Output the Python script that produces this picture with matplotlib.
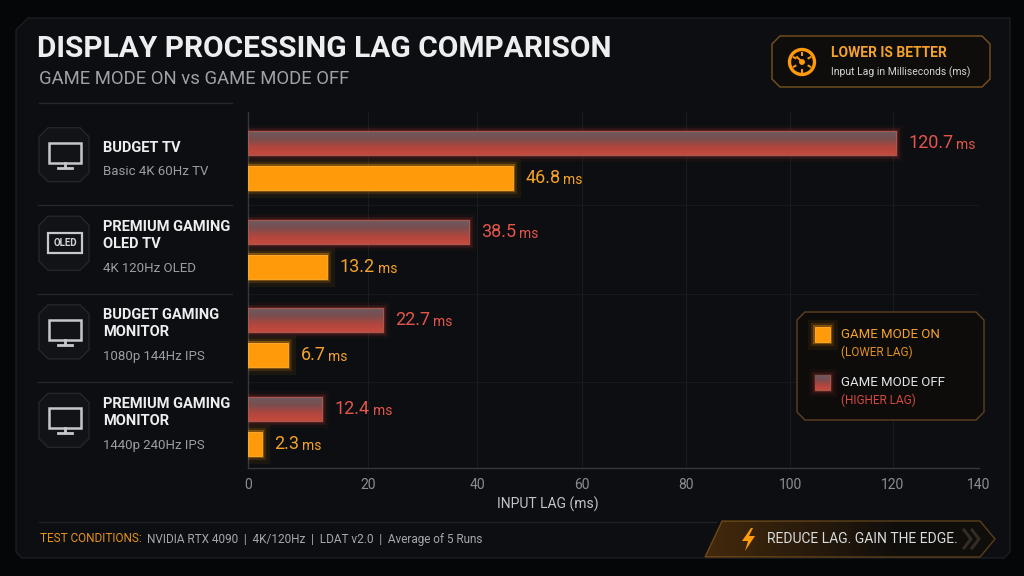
import numpy as np
import matplotlib
matplotlib.use('Agg')
import matplotlib.pyplot as plt
from matplotlib.patches import Polygon, Rectangle, Circle
from matplotlib.colors import LinearSegmentedColormap
import matplotlib.patheffects as pe

# ---------------- data ----------------
categories = ['BUDGET TV', 'PREMIUM GAMING\nOLED TV', 'BUDGET GAMING\nMONITOR', 'PREMIUM GAMING\nMONITOR']
specs = ['Basic 4K 60Hz TV', '4K 120Hz OLED', '1080p 144Hz IPS', '1440p 240Hz IPS']
icons = ['monitor', 'oled', 'monitor', 'monitor']
game_mode_off = [120.7, 38.5, 22.7, 12.4]
game_mode_on = [46.8, 13.2, 6.7, 2.3]
x_ticks = [0, 20, 40, 60, 80, 100, 120, 140]
series_names = ['GAME MODE ON', 'GAME MODE OFF']
series_notes = ['(LOWER LAG)', '(HIGHER LAG)']
title = 'DISPLAY PROCESSING LAG COMPARISON'
subtitle = 'GAME MODE ON vs GAME MODE OFF'
x_label = 'INPUT LAG (ms)'
badge_title = 'LOWER IS BETTER'
badge_sub = 'Input Lag in Milliseconds (ms)'
cond_label = 'TEST CONDITIONS:'
cond_text = 'NVIDIA RTX 4090  |  4K/120Hz  |  LDAT v2.0  |  Average of 5 Runs'
tagline = 'REDUCE LAG. GAIN THE EDGE.'

# ---------------- style ----------------
plt.rcParams['font.family'] = ['Roboto', 'DejaVu Sans']
BG_OUT = '#050607'
PANEL = '#0c0e11'
ORANGE = '#ff9a0a'
ORANGE_T = '#f5a22a'
RED_T = '#e4554b'
GRID = '#181b20'
W, H = 1024, 576
AX_L, AX_R, AX_T, AX_B = 248, 979, 112, 468
Y_TOP, Y_BOT = -0.55, 3.47
TICK_PX = [0, 120, 229, 334, 438, 542, 645, 731]  # visual position of each tick along the axis
OFFSET, BAR_H = 0.197, 0.27

fig = plt.figure(figsize=(W / 100, H / 100), dpi=100, facecolor=BG_OUT)
bg = fig.add_axes([0, 0, 1, 1], zorder=0)
top = fig.add_axes([0, 0, 1, 1], zorder=5)
for a in (bg, top):
    a.set_xlim(0, W)
    a.set_ylim(H, 0)
    a.axis('off')
    a.set_facecolor('none')

def py(v):
    return AX_T + (v - Y_TOP) / (Y_BOT - Y_TOP) * (AX_B - AX_T)

def chamfer(x0, y0, x1, y1, c):
    return [(x0 + c, y0), (x1 - c, y0), (x1, y0 + c), (x1, y1 - c), (x1 - c, y1),
            (x0 + c, y1), (x0, y1 - c), (x0, y0 + c)]

# main panel
bg.add_patch(Polygon([(16, 30), (28, 18), (1010, 18), (1010, 552), (1004, 558), (22, 558), (16, 552)],
                     closed=True, fc=PANEL, ec='#1b1e23', lw=1.0, zorder=0))

# title
bg.text(37, 49, title, fontsize=21.5, fontweight='bold', color='#eceef0', va='center', ha='left')
bg.text(39, 79, subtitle, fontsize=13.3, color='#9ea2a8', va='center', ha='left')
bg.plot([39, 232], [103, 103], color='#24272d', lw=1)

# top-right badge
bg.add_patch(Polygon(chamfer(772, 36, 990, 87, 8), closed=True, fc='#0e0d0b', ec='#7a5220', lw=1.0, zorder=1))
gc = (802, 62)
bg.add_patch(Circle(gc, 12.5, fill=False, ec=ORANGE, lw=2.4, zorder=2))
for ang in np.deg2rad([90, 150, 210, 270, 330, 30]):
    bg.plot([gc[0] + 7.5 * np.cos(ang), gc[0] + 9.5 * np.cos(ang)],
            [gc[1] - 7.5 * np.sin(ang), gc[1] - 9.5 * np.sin(ang)], color=ORANGE, lw=1.4, zorder=2)
bg.add_patch(Circle(gc, 2.2, color=ORANGE, zorder=2))
bg.plot([gc[0], gc[0] - 5], [gc[1], gc[1] - 5], color=ORANGE, lw=1.4, zorder=2)
bg.text(831, 53, badge_title, fontsize=10, fontweight='bold', color=ORANGE_T, va='center', ha='left')
bg.text(831, 72, badge_sub, fontsize=7.5, color='#d2d4d6', va='center', ha='left')

# ---------------- main axes ----------------
ax = fig.add_axes([AX_L / W, 1 - AX_B / H, (AX_R - AX_L) / W, (AX_B - AX_T) / H], zorder=2)
ax.set_facecolor('none')
fwd = lambda v: np.interp(v, x_ticks, TICK_PX)
inv = lambda p: np.interp(p, TICK_PX, x_ticks)
ax.set_xscale('function', functions=(fwd, inv))
ax.set_xlim(x_ticks[0], x_ticks[-1])
ax.set_ylim(Y_BOT, Y_TOP)
ax.set_xticks(x_ticks)
ax.set_xticklabels([str(t) for t in x_ticks])
ax.set_yticks([])
ax.tick_params(axis='x', length=0, pad=7, labelsize=10, labelcolor='#8a8e94')
ax.grid(axis='x', color=GRID, lw=0.8, zorder=0)
for s in ['top', 'right']:
    ax.spines[s].set_visible(False)
for s in ['left', 'bottom']:
    ax.spines[s].set_color('#34383e')
    ax.spines[s].set_linewidth(1.0)
for yy in np.arange(len(categories) - 1) + 0.5:
    ax.axhline(yy, color='#15181c', lw=0.8, zorder=0)

ypos = np.arange(len(categories))

# OFF bars with gradient
glow_off = [pe.Stroke(linewidth=9, foreground='#d8443a', alpha=0.05),
            pe.Stroke(linewidth=5, foreground='#d8443a', alpha=0.10),
            pe.Stroke(linewidth=2.5, foreground='#d8443a', alpha=0.22), pe.Normal()]
bars_off = ax.barh(ypos - OFFSET, game_mode_off, height=BAR_H, color='#8a4a48', lw=0, zorder=3)
cmap_off = LinearSegmentedColormap.from_list('off', ['#6c5a5f', '#7a4e4e', '#b0463e', '#c64a3f'])
grad = np.linspace(0, 1, 64).reshape(-1, 1)
fa = lambda v: (v - Y_BOT) / (Y_TOP - Y_BOT)
for rect in bars_off:
    rect.set_path_effects(glow_off)
    y0, h = rect.get_y(), rect.get_height()
    im = ax.imshow(grad, cmap=cmap_off, aspect='auto', origin='upper', transform=ax.transAxes,
                   extent=(0, 1, fa(y0 + h), fa(y0)), zorder=4, interpolation='bilinear')
    im.set_clip_path(rect)
ax.barh(ypos - OFFSET, game_mode_off, height=BAR_H, fill=False, ec='#a8584f', lw=0.8, zorder=5)

# ON bars with glow
glow_on = [pe.Stroke(linewidth=11, foreground=ORANGE, alpha=0.06),
           pe.Stroke(linewidth=6, foreground=ORANGE, alpha=0.14),
           pe.Stroke(linewidth=3, foreground=ORANGE, alpha=0.35), pe.Normal()]
bars_on = ax.barh(ypos + OFFSET, game_mode_on, height=BAR_H, color=ORANGE, ec='#ffb030', lw=0.6, zorder=3)
for rect in bars_on:
    rect.set_path_effects(glow_on)

# value labels
def value_label(v, y, color):
    t = ax.annotate(f'{v:.1f}', xy=(v, y), xytext=(9, 0), textcoords='offset points',
                    va='center', ha='left', fontsize=13, color=color, zorder=6)
    ax.annotate('ms', xy=(1, 0), xycoords=t, xytext=(2, 0), textcoords='offset points',
                va='bottom', ha='left', fontsize=10, color=color, zorder=6)

for i in range(len(categories)):
    value_label(game_mode_off[i], ypos[i] - OFFSET, RED_T)
    value_label(game_mode_on[i], ypos[i] + OFFSET, ORANGE_T)

ax.set_xlabel(x_label, fontsize=10, color='#c2c6ca')
ax.xaxis.set_label_coords((548 - AX_L) / (AX_R - AX_L), -(504 - AX_B) / (AX_B - AX_T))
ax.xaxis.label.set_va('center')

# ---------------- left category labels ----------------
for i, (name, spec, icon) in enumerate(zip(categories, specs, icons)):
    c = py(ypos[i]) - 6
    bg.add_patch(Polygon(chamfer(39, c - 27, 89, c + 27, 9), closed=True, fc='#111317', ec='#23262c', lw=1, zorder=1))
    if icon == 'monitor':
        bg.add_patch(Rectangle((49, c - 12), 32, 20, fill=False, ec='#c6c8cb', lw=1.8, zorder=2))
        bg.plot([65, 65], [c + 8, c + 12], color='#c6c8cb', lw=2, zorder=2)
        bg.plot([58, 72], [c + 13, c + 13], color='#c6c8cb', lw=2, zorder=2)
    else:
        bg.add_patch(Rectangle((48, c - 10), 34, 20, fill=False, ec='#c6c8cb', lw=1.6, zorder=2))
        bg.text(65, c, 'OLED', fontsize=7, fontweight='bold', color='#d0d2d4', ha='center', va='center', zorder=2)
    nl = name.count('\n') + 1
    nc = c - 7 if nl == 1 else c - 8
    bg.text(103, nc, name, fontsize=10.5, fontweight='bold', color='#eceef0', ha='left', va='center',
            linespacing=1.25)
    bg.text(103, nc + 9 * nl + 15, spec, fontsize=9.5, color='#9a9ea4', ha='left', va='center')
    if i < len(categories) - 1:
        yy = py(ypos[i] + 0.5)
        bg.plot([38, 232], [yy, yy], color='#24272d', lw=1, zorder=1)

# ---------------- legend (drawn above the plot) ----------------
top.add_patch(Polygon(chamfer(797, 312, 984, 420, 8), closed=True, fc='#0d0c0b', ec='#5e4020', lw=1.0, zorder=1))
sq_on = Rectangle((815, 327), 15, 15, fc=ORANGE, ec='#ffb030', lw=0.6, zorder=3)
sq_on.set_path_effects(glow_on)
top.add_patch(sq_on)
sq_off = Rectangle((815, 375), 15, 15, fc='#8a4a48', ec='#a8584f', lw=0.8, zorder=3)
sq_off.set_path_effects(glow_off)
top.add_patch(sq_off)
im = top.imshow(grad, cmap=cmap_off, aspect='auto', origin='upper', extent=(815, 830, 390, 375),
                zorder=4, interpolation='bilinear')
im.set_clip_path(sq_off)
top.set_xlim(0, W)
top.set_ylim(H, 0)
top.text(841, 334, series_names[0], fontsize=9.5, color=ORANGE_T, ha='left', va='center', zorder=3)
top.text(841, 352, series_notes[0], fontsize=8.5, color='#e0901e', ha='left', va='center', zorder=3)
top.text(841, 382, series_names[1], fontsize=9.5, color='#e2e4e6', ha='left', va='center', zorder=3)
top.text(841, 400, series_notes[1], fontsize=8.5, color='#d24a40', ha='left', va='center', zorder=3)

# ---------------- footer ----------------
bg.plot([39, 716], [522, 522], color='#1f2227', lw=1)
bg.text(40, 539, cond_label, fontsize=8.5, color='#e8921c', ha='left', va='center')
bg.text(147, 539, cond_text, fontsize=8.5, color='#a4a8ae', ha='left', va='center')

badge = Polygon([(722, 521), (980, 521), (995, 539), (980, 557), (705, 557)], closed=True,
                fc='#100e0b', ec='#5a3f1a', lw=1.0, zorder=1)
bg.add_patch(badge)
glow = np.zeros((8, 128, 4))
glow[..., 0], glow[..., 1], glow[..., 2] = 1.0, 0.55, 0.05
glow[..., 3] = np.linspace(0.22, 0.0, 128)[None, :]
gim = bg.imshow(glow, aspect='auto', extent=(705, 900, 557, 521), zorder=2, interpolation='bilinear')
gim.set_clip_path(badge)
bg.set_xlim(0, W)
bg.set_ylim(H, 0)
bg.add_patch(Polygon([(751, 528), (742, 541), (748, 541), (745, 551), (755, 536), (749, 536), (753, 528)],
                     closed=True, fc=ORANGE, ec='none', zorder=3))
bg.text(767, 539, tagline, fontsize=10, color='#dadcde', ha='left', va='center', zorder=3)
for dx in (0, 8):
    bg.plot([964 + dx, 971 + dx, 964 + dx], [530, 539, 548], color='#332c24', lw=2.2, zorder=3)

fig.savefig('out.png', dpi=100, facecolor=BG_OUT)
